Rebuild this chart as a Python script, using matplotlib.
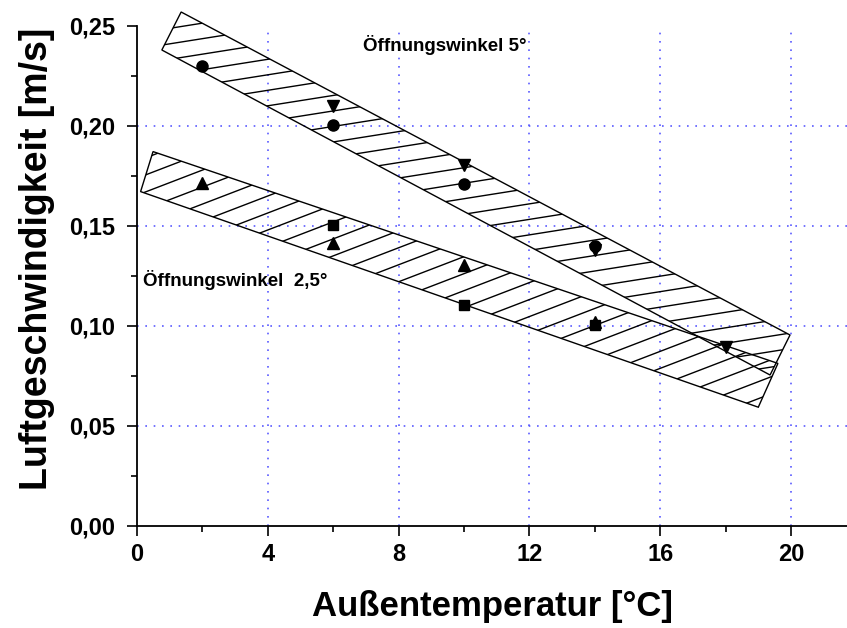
import numpy as np
import matplotlib
matplotlib.use('Agg')
import matplotlib.pyplot as plt
from matplotlib.patches import Polygon
from matplotlib.lines import Line2D

# --- data ---
# Öffnungswinkel 5°
x5_circle = [2, 6, 10, 14]
y5_circle = [0.230, 0.2005, 0.171, 0.140]
x5_tri = [6, 10, 14, 18]
y5_tri = [0.210, 0.1805, 0.138, 0.0897]
# Öffnungswinkel 2,5°
x25_square = [6, 10, 14]
y25_square = [0.1505, 0.1105, 0.1005]
x25_tri = [2, 6, 10, 14]
y25_tri = [0.1715, 0.1415, 0.1305, 0.102]

# band corners (scatter range)
band5_x = [1.35, 19.97, 19.36, 0.76]
band5_y = [0.257, 0.0955, 0.0755, 0.238]
band25_x = [0.49, 19.6, 19.0, 0.11]
band25_y = [0.1872, 0.0813, 0.0594, 0.1672]

x_ticks = [0, 4, 8, 12, 16, 20]
x_labels = ['0', '4', '8', '12', '16', '20']
y_ticks = [0.0, 0.05, 0.10, 0.15, 0.20, 0.25]
y_labels = ['0,00', '0,05', '0,10', '0,15', '0,20', '0,25']

plt.rcParams['font.family'] = ['Liberation Sans', 'DejaVu Sans']

fig = plt.figure(figsize=(8.47, 6.28), dpi=100)
ax = fig.add_axes([137 / 847, 102 / 628, 710 / 847, 500 / 628])
ax.set_xlim(0, 710 / 32.7)
ax.set_ylim(0, 0.25)

for s in ['top', 'right']:
    ax.spines[s].set_visible(False)
for s in ['left', 'bottom']:
    ax.spines[s].set_linewidth(1.3)

# dotted blue grid
grid_kw = dict(color='#5a5aff', linewidth=1.2, linestyle=(0, (1, 4)), zorder=0)
for xv in x_ticks[1:]:
    ax.axvline(xv, **grid_kw)
for yv in y_ticks[1:-1]:
    ax.axhline(yv, **grid_kw)

ax.set_xticks(x_ticks)
ax.set_xticklabels(x_labels)
ax.set_yticks(y_ticks)
ax.set_yticklabels(y_labels)
ax.set_xticks(np.arange(2, 22, 4), minor=True)
ax.set_yticks(np.arange(0.025, 0.25, 0.05), minor=True)
ax.tick_params(which='major', length=7, width=1.2, direction='out')
ax.tick_params(which='minor', length=4, width=1.2, direction='out')
ax.tick_params(axis='y', which='major', pad=9, labelsize=17)
ax.tick_params(axis='x', which='major', pad=5, labelsize=17)
for lab in ax.get_xticklabels() + ax.get_yticklabels():
    lab.set_fontweight('bold')


def hatch_band(ax, bx, by, angle, step):
    poly = Polygon(np.column_stack([bx, by]), closed=True, facecolor='none',
                   edgecolor='black', linewidth=1.0, clip_on=False, zorder=2)
    ax.add_patch(poly)
    disp = ax.transData.transform(np.column_stack([bx, by]))
    t = np.tan(np.radians(angle))
    cs = disp[:, 1] - t * disp[:, 0]
    x0, x1 = disp[:, 0].min() - 20, disp[:, 0].max() + 20
    inv = ax.transData.inverted()
    for c in np.arange(cs.min() + step / 2, cs.max(), step):
        p = inv.transform([[x0, t * x0 + c], [x1, t * x1 + c]])
        ln = Line2D(p[:, 0], p[:, 1], color='black', linewidth=1.0, zorder=2)
        ax.add_line(ln)
        ln.set_clip_path(poly)
        ln.set_clip_box(None)


hatch_band(ax, band5_x, band5_y, 9, 15.5)
hatch_band(ax, band25_x, band25_y, 21, 17)

mk = dict(color='black', linestyle='none', markersize=8, zorder=3, clip_on=False)
ax.plot(x5_tri, y5_tri, marker='v', **mk)
ax.plot(x5_circle, y5_circle, marker='o', **mk)
ax.plot(x25_tri, y25_tri, marker='^', **mk)
ax.plot(x25_square, y25_square, marker='s', markersize=7.5, color='black',
        linestyle='none', zorder=3)

ax.text(6.9, 0.2405, 'Öffnungswinkel 5°', fontsize=13.5, fontweight='bold',
        va='center', ha='left')
ax.text(0.18, 0.123, 'Öffnungswinkel  2,5°', fontsize=13.5, fontweight='bold',
        va='center', ha='left')

ax.set_xlabel('Außentemperatur [°C]', fontsize=25, fontweight='bold')
ax.set_ylabel('Luftgeschwindigkeit [m/s]', fontsize=27, fontweight='bold')
ax.xaxis.set_label_coords(0.5, -0.128)
ax.yaxis.set_label_coords(-0.115, 0.535)

fig.savefig('out.png', dpi=100)
